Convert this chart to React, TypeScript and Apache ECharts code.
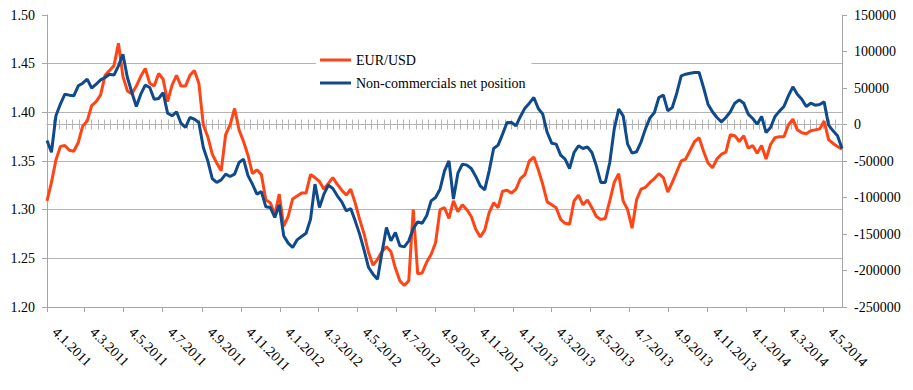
import React, { useEffect, useRef } from "react";
import * as echarts from "echarts";

// Weekly observations (Tuesdays), first one on 4.1.2011, last one on 3.6.2014
const startDate = [2011, 1, 4];
const weekStepDays = 7;
const axisSpanDays = 1246;

const seriesNames = ["EUR/USD", "Non-commercials net position"];

const eurUsd = [
  1.309, 1.328, 1.351, 1.365, 1.366, 1.361, 1.360, 1.369, 1.386, 1.391,
  1.407, 1.411, 1.418, 1.438, 1.443, 1.448, 1.471, 1.437, 1.422, 1.419,
  1.427, 1.437, 1.445, 1.430, 1.427, 1.440, 1.434, 1.411, 1.428, 1.438,
  1.427, 1.427, 1.438, 1.443, 1.430, 1.387, 1.375, 1.357, 1.348, 1.340,
  1.377, 1.387, 1.404, 1.382, 1.370, 1.356, 1.337, 1.341, 1.336, 1.310,
  1.307, 1.295, 1.316, 1.283, 1.293, 1.311, 1.314, 1.317, 1.317, 1.336,
  1.333, 1.329, 1.321, 1.327, 1.333, 1.326, 1.320, 1.315, 1.321, 1.307,
  1.290, 1.275, 1.256, 1.243, 1.249, 1.257, 1.262, 1.257, 1.240, 1.227,
  1.222, 1.227, 1.300, 1.234, 1.235, 1.246, 1.254, 1.266, 1.300, 1.302,
  1.291, 1.309, 1.298, 1.305, 1.300, 1.293, 1.280, 1.272, 1.279, 1.297,
  1.307, 1.302, 1.319, 1.320, 1.317, 1.321, 1.332, 1.336, 1.350, 1.354,
  1.341, 1.326, 1.308, 1.305, 1.302, 1.290, 1.286, 1.285, 1.309, 1.315,
  1.305, 1.310, 1.302, 1.293, 1.290, 1.291, 1.309, 1.328, 1.337, 1.309,
  1.300, 1.281, 1.310, 1.321, 1.323, 1.328, 1.332, 1.337, 1.333, 1.318,
  1.328, 1.339, 1.350, 1.352, 1.361, 1.370, 1.374, 1.360, 1.348, 1.343,
  1.352, 1.357, 1.359, 1.377, 1.376, 1.370, 1.376, 1.363, 1.366, 1.358,
  1.366, 1.352, 1.367, 1.374, 1.375, 1.375, 1.387, 1.393, 1.382, 1.379,
  1.378, 1.381, 1.382, 1.383, 1.391, 1.372, 1.368, 1.365, 1.362,
];

const netPosition = [
  -22000, -38000, 12000, 28000, 41500, 40200, 39300, 53000, 56600, 62100,
  49800, 55200, 61200, 64400, 68900, 67600, 80400, 96300, 64400, 43800,
  24700, 41500, 53900, 50700, 34700, 35600, 43800, 15500, 11900, 17400,
  1800, -4100, 9600, 7300, 2700, -31500, -49800, -74000, -79400, -75800,
  -68000, -71200, -68000, -52100, -47500, -70000, -81700, -95400, -92000, -112800,
  -113700, -127400, -110000, -152500, -162500, -168500, -158000, -153400, -148900, -130000,
  -81700, -113700, -95400, -83100, -87700, -97700, -105900, -118300, -115100, -132000,
  -150200, -172100, -195900, -205000, -211900, -175300, -141100, -159400, -147900, -166200,
  -167600, -159400, -142500, -133300, -135200, -125100, -104600, -100000, -88600, -63500,
  -49800, -102000, -66700, -54300, -55700, -60300, -71200, -84000, -89500, -63500,
  -32900, -28300, -13200, 2700, 2700, -1800, 11000, 22400, 29200, 37000,
  21900, 14200, -11000, -25600, -26900, -42000, -47500, -60300, -38400, -29200,
  -32900, -30600, -38400, -56600, -79400, -79400, -52100, -6400, 21000, 11900,
  -26900, -39300, -37400, -24000, -6000, 9000, 16400, 37000, 40200, 18700,
  23300, 42900, 66700, 68900, 70300, 71200, 71200, 50700, 27900, 17400,
  9600, 3700, 9600, 17400, 29200, 33800, 29200, 14200, 8200, 500,
  11000, -11000, -4100, 11000, 18300, 24700, 39300, 51600, 41500, 34700,
  24700, 29200, 26500, 27400, 31000, -900, -8700, -15500, -33000,
];

const leftAxis = { min: 1.2, max: 1.5, step: 0.05 };
const rightAxis = { min: -250000, max: 150000, step: 50000 };
const zeroLineTickCount = 125;

const FONT = "Liberation Serif";
const GRID_COLOR = "#b4b4b4";
const AXIS_COLOR = "#a6a6a6";
const ORANGE = "#ff4416";
const BLUE = "#0e4a8c";

function buildDayCategories(): string[] {
  const t0 = Date.UTC(startDate[0], startDate[1] - 1, startDate[2]);
  const out: string[] = [];
  for (let i = 0; i <= axisSpanDays; i++) {
    const d = new Date(t0 + i * 86400000);
    out.push(`${d.getUTCDate()}.${d.getUTCMonth() + 1}.${d.getUTCFullYear()}`);
  }
  return out;
}

function isMarkedDay(label: string): boolean {
  const parts = String(label).split(".");
  const day = Number(parts[0]);
  const month = Number(parts[1]);
  return day === 4 && month % 2 === 1;
}

export default function App() {
  const ref = useRef<HTMLDivElement>(null);

  useEffect(() => {
    if (!ref.current) return;
    const chart = echarts.init(ref.current, undefined, { renderer: "svg" });
    const days = buildDayCategories();
    const interval = (_i: number, v: string) => isMarkedDay(v);

    const zeroAxis = (inside: boolean) => ({
      type: "value",
      gridIndex: 0,
      min: 0,
      max: zeroLineTickCount,
      interval: 1,
      position: "bottom",
      axisLine: {
        show: true,
        onZero: true,
        onZeroAxisIndex: 1,
        lineStyle: { color: GRID_COLOR, width: 1 },
      },
      axisTick: { show: true, inside, length: 5, lineStyle: { color: GRID_COLOR } },
      axisLabel: { show: false },
      splitLine: { show: false },
    });

    const labelStyle = { fontFamily: FONT, fontSize: 14, color: "#000" };

    chart.setOption({
      animation: false,
      backgroundColor: "#ffffff",
      textStyle: { fontFamily: FONT, fontSize: 14, color: "#000" },
      grid: { left: 47, right: 71, top: 15, bottom: 83, containLabel: false },
      legend: {
        orient: "vertical",
        left: 316,
        top: 48,
        backgroundColor: "#ffffff",
        padding: [4, 6, 4, 4],
        itemWidth: 31,
        itemHeight: 3,
        itemGap: 7,
        icon: "rect",
        textStyle: { ...labelStyle, lineHeight: 16 },
        data: seriesNames,
      },
      xAxis: [
        {
          type: "category",
          data: days,
          boundaryGap: false,
          axisLine: { onZero: false, lineStyle: { color: AXIS_COLOR } },
          axisTick: { interval, length: 5, lineStyle: { color: AXIS_COLOR } },
          axisLabel: {
            ...labelStyle,
            interval,
            rotate: -45,
            margin: 15,
            padding: [0, 0, 0, 11],
          },
          splitLine: { show: false },
        },
        zeroAxis(true),
        zeroAxis(false),
      ],
      yAxis: [
        {
          type: "value",
          position: "left",
          min: leftAxis.min,
          max: leftAxis.max,
          interval: leftAxis.step,
          axisLine: { show: true, onZero: false, lineStyle: { color: AXIS_COLOR } },
          axisTick: { show: true, length: 5, lineStyle: { color: AXIS_COLOR } },
          axisLabel: {
            ...labelStyle,
            margin: 12,
            formatter: (v: number) => v.toFixed(2),
          },
          splitLine: { show: true, showMaxLine: false, lineStyle: { color: GRID_COLOR } },
        },
        {
          type: "value",
          position: "right",
          min: rightAxis.min,
          max: rightAxis.max,
          interval: rightAxis.step,
          axisLine: { show: true, onZero: false, lineStyle: { color: AXIS_COLOR } },
          axisTick: { show: true, length: 5, lineStyle: { color: AXIS_COLOR } },
          axisLabel: { ...labelStyle, margin: 12, formatter: (v: number) => String(v) },
          splitLine: { show: false },
        },
      ],
      series: [
        {
          name: seriesNames[0],
          type: "line",
          xAxisIndex: 0,
          yAxisIndex: 0,
          showSymbol: false,
          symbol: "none",
          lineStyle: { color: ORANGE, width: 3 },
          itemStyle: { color: ORANGE },
          data: eurUsd.map((v, w) => [w * weekStepDays, v]),
        },
        {
          name: seriesNames[1],
          type: "line",
          xAxisIndex: 0,
          yAxisIndex: 1,
          showSymbol: false,
          symbol: "none",
          lineStyle: { color: BLUE, width: 3 },
          itemStyle: { color: BLUE },
          data: netPosition.map((v, w) => [w * weekStepDays, v]),
        },
      ],
    });

    return () => chart.dispose();
  }, []);

  return (
    <div
      ref={ref}
      style={{ position: "fixed", left: 0, top: 0, width: 913, height: 390, background: "#fff" }}
    />
  );
}
